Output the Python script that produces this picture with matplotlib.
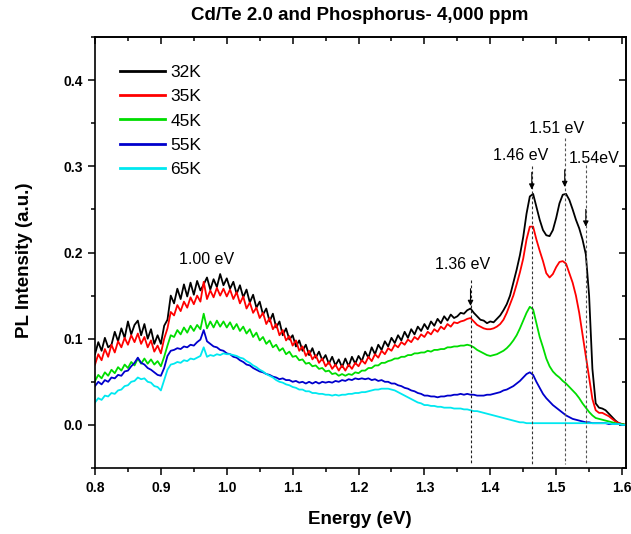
import numpy as np
import matplotlib
matplotlib.use("Agg")
import matplotlib.pyplot as plt
from matplotlib.ticker import MultipleLocator

plt.rcParams['font.family'] = ['Liberation Sans', 'DejaVu Sans']

energy = np.round(np.arange(0.800, 1.6051, 0.005), 3)

k32 = [0.082, 0.096, 0.086, 0.101, 0.090, 0.093, 0.108, 0.097, 0.112, 0.101,
       0.120, 0.105, 0.116, 0.121, 0.104, 0.117, 0.100, 0.111, 0.094, 0.104,
       0.094, 0.115, 0.122, 0.150, 0.141, 0.158, 0.146, 0.163, 0.149, 0.165,
       0.151, 0.167, 0.156, 0.163, 0.171, 0.157, 0.169, 0.160, 0.175, 0.162,
       0.170, 0.158, 0.166, 0.152, 0.162, 0.148, 0.157, 0.142, 0.151, 0.136,
       0.143, 0.128, 0.135, 0.120, 0.129, 0.113, 0.120, 0.104, 0.112, 0.099,
       0.104, 0.091, 0.098, 0.086, 0.093, 0.081, 0.089, 0.078, 0.085, 0.075,
       0.081, 0.071, 0.079, 0.069, 0.076, 0.067, 0.077, 0.068, 0.079, 0.071,
       0.080, 0.074, 0.085, 0.078, 0.090, 0.082, 0.093, 0.087, 0.097, 0.091,
       0.101, 0.095, 0.104, 0.098, 0.108, 0.101, 0.111, 0.105, 0.114, 0.109,
       0.117, 0.111, 0.120, 0.115, 0.123, 0.118, 0.126, 0.121, 0.128, 0.124,
       0.126, 0.130, 0.129, 0.133, 0.135, 0.130, 0.126, 0.122, 0.121, 0.118,
       0.120, 0.119, 0.123, 0.127, 0.133, 0.140, 0.150, 0.165, 0.180, 0.197,
       0.218, 0.245, 0.265, 0.268, 0.253, 0.238, 0.226, 0.220, 0.219, 0.226,
       0.240, 0.257, 0.267, 0.268, 0.261, 0.250, 0.238, 0.228, 0.215, 0.198,
       0.150, 0.065, 0.025, 0.020, 0.019, 0.017, 0.013, 0.009, 0.005, 0.002,
       0.001, 0.000]

k35 = [0.070, 0.082, 0.075, 0.088, 0.079, 0.093, 0.084, 0.097, 0.090, 0.101,
       0.093, 0.104, 0.096, 0.106, 0.094, 0.102, 0.090, 0.098, 0.085, 0.092,
       0.083, 0.100, 0.112, 0.131, 0.127, 0.139, 0.132, 0.143, 0.136, 0.148,
       0.140, 0.150, 0.143, 0.166, 0.146, 0.156, 0.148, 0.159, 0.150, 0.158,
       0.149, 0.157, 0.146, 0.154, 0.141, 0.149, 0.135, 0.142, 0.130, 0.136,
       0.124, 0.130, 0.117, 0.124, 0.111, 0.117, 0.104, 0.110, 0.098, 0.103,
       0.092, 0.098, 0.086, 0.091, 0.080, 0.086, 0.076, 0.081, 0.072, 0.077,
       0.068, 0.073, 0.065, 0.070, 0.063, 0.069, 0.063, 0.070, 0.065, 0.072,
       0.068, 0.075, 0.071, 0.079, 0.074, 0.082, 0.078, 0.086, 0.082, 0.089,
       0.086, 0.093, 0.090, 0.096, 0.093, 0.099, 0.096, 0.102, 0.099, 0.105,
       0.102, 0.108, 0.105, 0.111, 0.108, 0.114, 0.111, 0.117, 0.114, 0.119,
       0.118, 0.120, 0.121, 0.123, 0.124, 0.120, 0.116, 0.114, 0.112, 0.111,
       0.111, 0.112, 0.114, 0.117, 0.122, 0.130, 0.140, 0.150, 0.163, 0.177,
       0.193, 0.215, 0.230, 0.230, 0.215, 0.202, 0.190, 0.176, 0.171, 0.175,
       0.183, 0.189, 0.190, 0.187, 0.176, 0.165, 0.150, 0.130, 0.105, 0.080,
       0.055, 0.030, 0.017, 0.014, 0.014, 0.012, 0.010, 0.007, 0.004, 0.002,
       0.001, 0.000]

k45 = [0.051, 0.058, 0.054, 0.061, 0.057, 0.064, 0.060, 0.067, 0.063, 0.070,
       0.066, 0.073, 0.069, 0.077, 0.071, 0.077, 0.071, 0.076, 0.070, 0.074,
       0.068, 0.079, 0.092, 0.104, 0.102, 0.110, 0.105, 0.113, 0.107, 0.115,
       0.109, 0.116, 0.111, 0.129, 0.112, 0.120, 0.113, 0.121, 0.114, 0.120,
       0.113, 0.119, 0.111, 0.117, 0.109, 0.114, 0.106, 0.111, 0.102, 0.107,
       0.098, 0.102, 0.094, 0.098, 0.090, 0.093, 0.086, 0.089, 0.082, 0.085,
       0.079, 0.080, 0.075, 0.076, 0.071, 0.072, 0.068, 0.069, 0.065, 0.066,
       0.062, 0.063, 0.059, 0.060, 0.057, 0.059, 0.057, 0.059, 0.058, 0.061,
       0.060, 0.063, 0.063, 0.066, 0.066, 0.069, 0.069, 0.072, 0.072, 0.074,
       0.075, 0.077, 0.077, 0.079, 0.079, 0.081, 0.081, 0.083, 0.083, 0.084,
       0.084, 0.086, 0.085, 0.087, 0.087, 0.088, 0.088, 0.090, 0.090, 0.091,
       0.091, 0.092, 0.092, 0.093, 0.092, 0.090, 0.087, 0.085, 0.083, 0.081,
       0.080, 0.081, 0.082, 0.084, 0.086, 0.089, 0.093, 0.098, 0.104, 0.112,
       0.121, 0.130, 0.137, 0.134, 0.118, 0.102, 0.090, 0.077, 0.068, 0.062,
       0.058, 0.055, 0.051, 0.048, 0.044, 0.040, 0.036, 0.031, 0.025, 0.020,
       0.015, 0.011, 0.008, 0.007, 0.006, 0.005, 0.004, 0.003, 0.002, 0.001,
       0.001, 0.000]

k55 = [0.045, 0.050, 0.047, 0.052, 0.050, 0.055, 0.054, 0.058, 0.057, 0.062,
       0.063, 0.068, 0.072, 0.078, 0.072, 0.070, 0.066, 0.064, 0.061, 0.058,
       0.057, 0.066, 0.080, 0.086, 0.087, 0.089, 0.088, 0.091, 0.090, 0.093,
       0.092, 0.096, 0.099, 0.110, 0.097, 0.094, 0.091, 0.090, 0.087, 0.086,
       0.083, 0.082, 0.079, 0.078, 0.075, 0.073, 0.070, 0.069, 0.066, 0.064,
       0.062, 0.061, 0.059, 0.058, 0.056, 0.055, 0.053, 0.054, 0.052, 0.052,
       0.050, 0.051, 0.049, 0.050, 0.048, 0.050, 0.048, 0.050, 0.048, 0.050,
       0.049, 0.050, 0.049, 0.051, 0.050, 0.052, 0.051, 0.053, 0.052, 0.054,
       0.053, 0.054, 0.053, 0.054, 0.052, 0.053, 0.051, 0.052, 0.050, 0.050,
       0.048, 0.048, 0.046, 0.045, 0.043, 0.042, 0.040, 0.039, 0.037, 0.036,
       0.034, 0.034, 0.033, 0.033, 0.032, 0.033, 0.033, 0.034, 0.034, 0.035,
       0.035, 0.036, 0.035, 0.036, 0.035, 0.035, 0.034, 0.034, 0.034, 0.035,
       0.035, 0.036, 0.037, 0.038, 0.040, 0.041, 0.043, 0.045, 0.048, 0.051,
       0.055, 0.059, 0.061, 0.058, 0.050, 0.043, 0.036, 0.031, 0.027, 0.023,
       0.020, 0.017, 0.014, 0.011, 0.009, 0.007, 0.006, 0.005, 0.004, 0.003,
       0.003, 0.002, 0.002, 0.002, 0.002, 0.002, 0.001, 0.001, 0.001, 0.001,
       0.000, 0.000]

k65 = [0.026, 0.031, 0.029, 0.034, 0.033, 0.037, 0.036, 0.040, 0.041, 0.045,
       0.046, 0.050, 0.051, 0.055, 0.053, 0.054, 0.050, 0.049, 0.045, 0.044,
       0.040, 0.052, 0.064, 0.070, 0.071, 0.073, 0.072, 0.075, 0.074, 0.077,
       0.076, 0.078, 0.080, 0.090, 0.079, 0.081, 0.080, 0.082, 0.081, 0.083,
       0.082, 0.082, 0.081, 0.080, 0.078, 0.077, 0.074, 0.072, 0.069, 0.067,
       0.064, 0.062, 0.059, 0.057, 0.055, 0.052, 0.050, 0.049, 0.047, 0.046,
       0.044, 0.043, 0.041, 0.041, 0.039, 0.039, 0.037, 0.037, 0.036, 0.036,
       0.035, 0.035, 0.034, 0.035, 0.034, 0.035, 0.035, 0.036, 0.036, 0.037,
       0.037, 0.038, 0.038, 0.039, 0.040, 0.041, 0.041, 0.042, 0.042, 0.042,
       0.041, 0.040, 0.038, 0.036, 0.034, 0.032, 0.030, 0.028, 0.026, 0.025,
       0.023, 0.023, 0.022, 0.022, 0.021, 0.021, 0.020, 0.020, 0.020, 0.019,
       0.019, 0.019, 0.018, 0.018, 0.017, 0.016, 0.016, 0.015, 0.014, 0.013,
       0.012, 0.011, 0.010, 0.009, 0.008, 0.007, 0.006, 0.005, 0.004, 0.003,
       0.003, 0.002, 0.002, 0.002, 0.002, 0.002, 0.002, 0.002, 0.002, 0.002,
       0.002, 0.002, 0.002, 0.002, 0.002, 0.002, 0.002, 0.002, 0.002, 0.002,
       0.002, 0.002, 0.002, 0.002, 0.002, 0.002, 0.002, 0.001, 0.001, 0.001,
       0.000, 0.000]

series_labels = ['32K', '35K', '45K', '55K', '65K']
series_values = [k32, k35, k45, k55, k65]
series_colors = ['#000000', '#ff0000', '#00dd00', '#0000cc', '#00e8f0']

# peak annotations
peak_labels = ['1.36 eV', '1.46 eV', '1.51 eV', '1.54eV']
peak_energy = [1.37, 1.463, 1.513, 1.545]
peak_text_x = [1.358, 1.446, 1.500, 1.557]
peak_text_y = [0.186, 0.312, 0.344, 0.309]
peak_line_top = [0.168, 0.300, 0.333, 0.302]
peak_arrow_tip = [0.138, 0.273, 0.276, 0.230]
peak_line_colors = ['#222222', '#333333', '#555555', '#555555']

fig = plt.figure(figsize=(6.31, 5.34), dpi=100)
ax = fig.add_axes([95/631, 1-468/534, (626-95)/631, (468-37)/534])

for lab, vals, col in zip(series_labels, series_values, series_colors):
    assert len(vals) == len(energy)
    ax.plot(energy, vals, color=col, lw=1.3, label=lab)

for lab, e, tx, ty, top, tip, lc in zip(peak_labels, peak_energy, peak_text_x,
                                         peak_text_y, peak_line_top, peak_arrow_tip,
                                         peak_line_colors):
    ax.plot([e, e], [top, -0.045], color=lc, lw=0.8, ls=(0, (2.5, 2)))
    ax.annotate('', xy=(e, tip), xytext=(e, tip + 0.02),
                arrowprops=dict(arrowstyle='-|>', color='black', lw=0.8,
                                mutation_scale=8, shrinkA=0, shrinkB=0))
    ax.text(tx, ty, lab, ha='center', va='center', fontsize=11.5)

ax.text(0.97, 0.192, '1.00 eV', ha='center', va='center', fontsize=11.5)

ax.set_xlim(0.8, 1.606)
ax.set_ylim(-0.05, 0.45)
ax.xaxis.set_major_locator(MultipleLocator(0.1))
ax.xaxis.set_minor_locator(MultipleLocator(0.05))
ax.set_yticks([0.0, 0.1, 0.2, 0.3, 0.4])
ax.yaxis.set_minor_locator(MultipleLocator(0.05))
ax.xaxis.set_major_formatter(plt.FuncFormatter(lambda v, p: f'{v:.1f}'))
ax.yaxis.set_major_formatter(plt.FuncFormatter(lambda v, p: f'{v:.1f}'))
ax.tick_params(which='major', direction='out', length=5, width=1.1, labelsize=10, pad=4)
ax.tick_params(which='minor', direction='out', length=3, width=1.1)
for t in ax.get_xticklabels() + ax.get_yticklabels():
    t.set_fontweight('bold')
for s in ax.spines.values():
    s.set_linewidth(1.2)

secx = ax.secondary_xaxis('top')
secx.xaxis.set_major_locator(MultipleLocator(0.1))
secx.xaxis.set_minor_locator(MultipleLocator(0.05))
secx.tick_params(which='major', direction='in', length=5, width=1.1, labeltop=False)
secx.tick_params(which='minor', direction='in', length=3, width=1.1)
secx.spines['top'].set_linewidth(1.2)

secy = ax.secondary_yaxis('right')
secy.set_yticks([0.0, 0.1, 0.2, 0.3, 0.4])
secy.yaxis.set_minor_locator(MultipleLocator(0.05))
secy.tick_params(which='major', direction='in', length=5, width=1.1, labelright=False)
secy.tick_params(which='minor', direction='in', length=3, width=1.1)
secy.spines['right'].set_linewidth(1.2)

leg = ax.legend(loc='upper left', bbox_to_anchor=(0.047, 0.935), frameon=False,
                fontsize=12.5, handlelength=2.6, handletextpad=0.3,
                labelspacing=0.52, borderaxespad=0, borderpad=0)
for h in leg.get_lines():
    h.set_linewidth(2.0)

fig.text(360/631, 1-15/534, 'Cd/Te 2.0 and Phosphorus- 4,000 ppm', ha='center',
         va='center', fontsize=13.5, fontweight='bold')
fig.text(360/631, 1-520/534, 'Energy (eV)', ha='center', va='center',
         fontsize=13.5, fontweight='bold')
fig.text(25/631, 1-260/534, 'PL Intensity (a.u.)', ha='center', va='center',
         rotation=90, fontsize=13.5, fontweight='bold')

fig.savefig('out.png', dpi=100)
